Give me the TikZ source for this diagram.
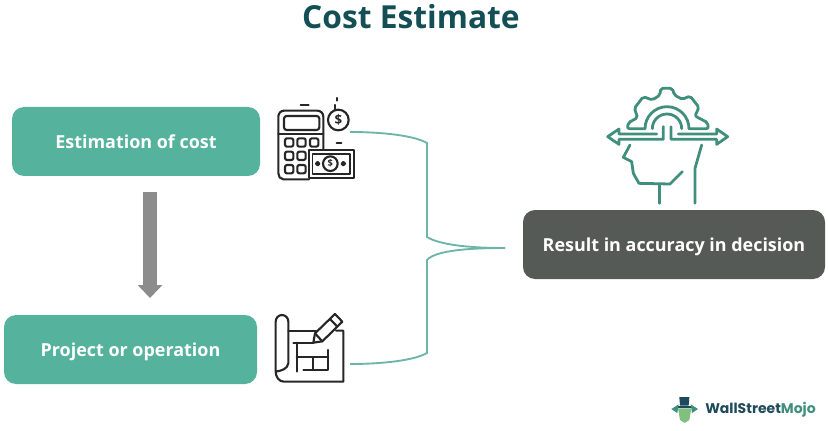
\documentclass[tikz,border=0pt]{standalone}
\usepackage{fontspec}
\setmainfont{Open Sans}
\newfontfamily\logofont{Poppins}
\usetikzlibrary{arrows.meta}
\definecolor{tealbox}{HTML}{55B29C}
\definecolor{greybox}{HTML}{555A56}
\definecolor{titleteal}{HTML}{134F55}
\definecolor{iconteal}{HTML}{3F8F7C}
\definecolor{linkteal}{HTML}{6DB5A6}
\definecolor{logodark}{HTML}{1F4A5C}
\definecolor{logogreen}{HTML}{7FBF7F}
\tikzset{
	box/.style={rounded corners=9pt, text=white, font=\bfseries\fontsize{13.45}{16}\selectfont, align=center, inner sep=0pt, text height=12pt, text depth=2pt},
	link/.style={linkteal, line width=1.4pt},
	ink/.style={black!85, line width=1.6pt, line join=round, line cap=round},
	headline/.style={iconteal, line width=2.1pt, line join=round, line cap=round}
}
\begin{document}
\begin{tikzpicture}[x=0.75pt,y=-0.75pt]
	\useasboundingbox (0,0) rectangle (828,431);
	
	\node at (411,17) (title) {\textcolor{titleteal}{\bfseries\fontsize{23.8}{28}\selectfont Cost Estimate}};
	
	\node[box, fill=tealbox, minimum width=186pt, minimum height=51.75pt] at (136,141.5) (estimation) {Estimation of cost};
	\node[box, fill=tealbox, minimum width=189.75pt, minimum height=51.75pt] at (130.5,349.5) (project) {Project or operation};
	\node[box, fill=greybox, minimum width=226.5pt, minimum height=51.75pt] at (674,244.5) (result) {Result in accuracy in decision};
	
	\coordinate (arrowtop) at (150,192);
	\coordinate (arrowend) at (150,298);
	\draw[draw=black!45, line width=10.5pt, -{Triangle[length=9.75pt,width=18pt]}] (arrowtop) -- (arrowend);
	
	\coordinate (calcend) at (350,132);
	\coordinate (planend) at (350,364);
	\coordinate (meet) at (505,248);
	\draw[link] (calcend) .. controls (385,132) and (415,136) .. (427,143) -- (427,237) .. controls (440,245) and (470,248) .. (meet);
	\draw[link] (planend) .. controls (385,364) and (415,360) .. (427,353) -- (427,260) .. controls (435,251) and (465,248) .. (meet);
	
	% calculator and money
	\begin{scope}[shift={(260,90)},x=0.25pt,y=-0.25pt]
		\draw[ink] (147,268) -- (70,268) to[out=180,in=-90] (55,250) -- (55,80) to[out=90,in=180] (72,62) -- (172,62) to[out=0,in=90] (190,80) -- (190,178);
		\draw[ink] (55,132) -- (190,132);
		\draw[ink, rounded corners=2pt] (72,78) rectangle (178,120);
		\foreach \bx/\by in {75/145,112/145,150/145,75/185,112/185,75/225,112/225}
			\draw[ink, rounded corners=1.5pt] (\bx,\by) rectangle +(25,25);
		\draw[ink, fill=white] (147,180) rectangle (281,264);
		\draw[ink, line width=0.9pt] (158,192) rectangle (270,252);
		\draw[ink] (211,221) circle (22);
		\draw[ink] (173,221) circle (5);
		\draw[ink] (250,221) circle (5);
		\node[font=\bfseries\fontsize{7}{8}\selectfont, text=black!85] at (211,221) (billsign) {\$};
		\draw[ink] (235,90) circle (31);
		\node[font=\bfseries\fontsize{10}{12}\selectfont, text=black!85] at (235,90) (coinsign) {\$};
		\draw[ink] (224,58) -- (224,45);
		\draw[ink] (232,32) -- (232,24);
		\draw[ink] (122,45) -- (146,45);
		\draw[ink] (230,160) -- (244,160);
	\end{scope}
	
	% plan and pencil
	\begin{scope}[shift={(260,300)},x=0.25pt,y=-0.25pt]
		\draw[ink] (47,215) -- (47,65) to[out=90,in=180] (66,45) to[out=0,in=90] (85,65) -- (85,190) to[out=-100,in=10] (47,215) to[out=-90,in=180] (72,245) -- (250,245) -- (250,92) -- (228,92);
		\draw[ink] (85,92) -- (168,92);
		\draw[ink] (100,128) -- (160,128);
		\draw[ink] (110,128) -- (110,215);
		\draw[ink] (110,172) -- (205,172);
		\draw[ink] (130,210) -- (205,210) -- (205,150);
		\draw[ink] (160,172) -- (160,210);
		\draw[ink] (165,100) -- (225,42) -- (247,65) -- (187,124) -- (160,128) -- cycle;
		\draw[ink] (210,57) -- (232,80);
		\draw[ink] (165,100) -- (187,124);
	\end{scope}
	
	% head with gear
	\begin{scope}[shift={(595,80)},x=0.25pt,y=-0.25pt]
		\draw[headline, rounded corners=1.5pt] (150,146) -- (97,146) -- (100,128) -- (128,113) -- (118,85) -- (145,50) -- (172,60) -- (195,45) -- (197,25) -- (232,25) -- (238,45) -- (262,58) -- (285,48) -- (312,82) -- (300,108) -- (338,128) -- (340,146) -- (282,146);
		\draw[headline] (150,146) arc[start angle=180, end angle=360, radius=66];
		\draw[headline] (172,146) arc[start angle=180, end angle=360, radius=44];
		\draw[headline] (205,140) -- (205,178) -- (72,178) -- (72,193) -- (38,170) -- (72,147) -- (72,162) -- (185,162);
		\draw[headline] (228,140) -- (228,178) -- (365,178) -- (365,193) -- (398,170) -- (365,147) -- (365,162) -- (250,162);
		\draw[headline] (105,195) -- (85,232) -- (110,245) -- (115,280) -- (132,310) -- (225,312) -- (262,275);
		\draw[headline] (193,312) -- (193,370);
		\draw[headline] (320,195) -- (300,265) -- (300,370);
	\end{scope}
	
	% logo
	\begin{scope}[shift={(660,385)},x=0.25pt,y=-0.25pt]
		\fill[logodark] (58,36) -- (88,36) -- (86,62) -- (60,62) -- cycle;
		\fill[logodark] (50,62) -- (98,62) -- (98,68) -- (50,68) -- cycle;
		\fill[logogreen] (54,70) -- (94,70) -- (88,105) -- (74,114) -- (60,105) -- cycle;
		\fill[iconteal] (34,72) -- (56,58) -- (54,70) -- (52,84) -- cycle;
		\fill[iconteal] (114,72) -- (92,58) -- (94,70) -- (96,84) -- cycle;
	\end{scope}
	\node at (760.5,410) (logo) {\logofont\bfseries\fontsize{10.5}{13}\selectfont\textcolor{logodark}{WallStreet}\textcolor{iconteal}{Mojo}};
\end{tikzpicture}
\end{document}
